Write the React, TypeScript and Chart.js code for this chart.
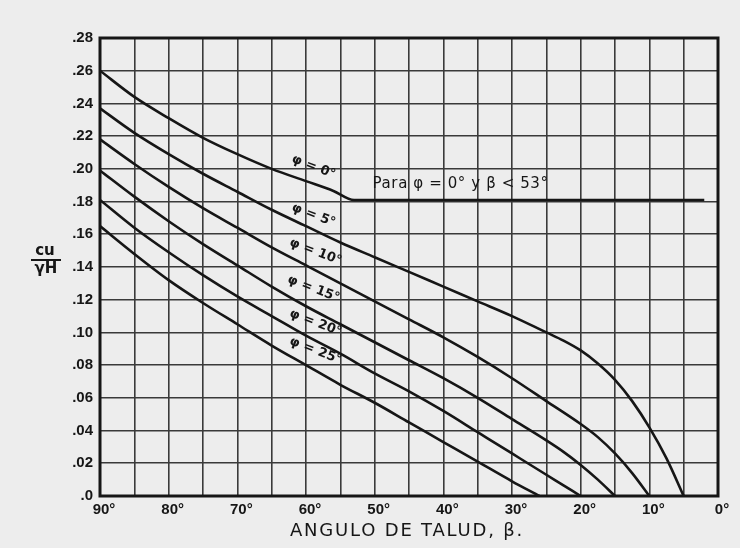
import React, { useEffect, useRef } from "react";
import { Chart, registerables } from "chart.js";

Chart.register(...registerables);

// Slope angle β (degrees) and stability number cu/γH
const beta0 = [90, 85, 80, 75, 70, 65, 60, 56, 53, 2];
const phi0 = [0.26, 0.244, 0.231, 0.219, 0.209, 0.2, 0.1925, 0.1865, 0.181, 0.181];

const beta5 = [90, 85, 80, 75, 70, 65, 60, 55, 50, 45, 40, 35, 30, 25, 22.5, 20, 17.5, 15, 12.5, 10, 7.5, 5];
const phi5 = [0.237, 0.222, 0.209, 0.197, 0.186, 0.175, 0.165, 0.155, 0.146, 0.137, 0.128, 0.119, 0.11, 0.1, 0.095, 0.089, 0.081, 0.071, 0.058, 0.042, 0.023, 0];

const beta10 = [90, 85, 80, 75, 70, 65, 60, 55, 50, 45, 40, 35, 30, 25, 20, 17.5, 15, 12.5, 10];
const phi10 = [0.218, 0.203, 0.189, 0.176, 0.164, 0.152, 0.141, 0.13, 0.119, 0.108, 0.097, 0.085, 0.072, 0.058, 0.044, 0.036, 0.026, 0.014, 0];

const beta15 = [90, 85, 80, 75, 70, 65, 60, 55, 50, 45, 40, 35, 30, 25, 22.5, 20, 17.5, 15];
const phi15 = [0.199, 0.183, 0.168, 0.154, 0.141, 0.128, 0.116, 0.105, 0.094, 0.083, 0.072, 0.06, 0.047, 0.034, 0.027, 0.019, 0.01, 0];

const beta20 = [90, 85, 80, 75, 70, 65, 60, 55, 50, 45, 40, 35, 30, 25, 22.5, 20];
const phi20 = [0.181, 0.164, 0.149, 0.135, 0.122, 0.11, 0.098, 0.087, 0.075, 0.064, 0.052, 0.039, 0.026, 0.013, 0.0065, 0];

const beta25 = [90, 85, 80, 75, 70, 65, 60, 55, 50, 45, 40, 35, 30, 26];
const phi25 = [0.165, 0.148, 0.132, 0.118, 0.105, 0.092, 0.08, 0.068, 0.057, 0.045, 0.033, 0.021, 0.009, 0];

const seriesBeta = [beta0, beta5, beta10, beta15, beta20, beta25];
const seriesValues = [phi0, phi5, phi10, phi15, phi20, phi25];
const seriesNames = ["φ = 0°", "φ = 5°", "φ = 10°", "φ = 15°", "φ = 20°", "φ = 25°"];

// Label anchors in data units (β, cu/γH)
const labelBeta = [58.9, 58.9, 58.6, 58.9, 58.6, 58.6];
const labelValue = [0.2012, 0.1716, 0.1492, 0.1266, 0.1059, 0.0888];
const noteText = "Para φ = 0° y β < 53°";

const xTitle = "ANGULO DE TALUD, β.";

const INK = "#161616";
const BG = "#ededed";

export default function App() {
  const ref = useRef<HTMLCanvasElement>(null);

  useEffect(() => {
    const canvas = ref.current;
    if (!canvas) return;

    const decor = {
      id: "decor",
      beforeDraw(chart: any) {
        const ctx = chart.ctx;
        ctx.save();
        ctx.fillStyle = BG;
        ctx.fillRect(0, 0, chart.width, chart.height);
        ctx.restore();
      },
      afterDatasetsDraw(chart: any) {
        const ctx = chart.ctx;
        const { left, right, top, bottom } = chart.chartArea;
        const xs = chart.scales.x;
        const ys = chart.scales.y;
        ctx.save();
        // frame
        ctx.strokeStyle = INK;
        ctx.lineWidth = 3;
        ctx.strokeRect(left, top, right - left, bottom - top);

        // curve labels
        ctx.fillStyle = INK;
        ctx.font = 'bold 13px "DejaVu Sans"';
        ctx.textAlign = "center";
        ctx.textBaseline = "middle";
        for (let i = 0; i < seriesNames.length; i++) {
          const px = xs.getPixelForValue(labelBeta[i]);
          const py = ys.getPixelForValue(labelValue[i]);
          ctx.save();
          ctx.translate(px, py);
          ctx.rotate((21 * Math.PI) / 180);
          ctx.fillText(seriesNames[i], 0, 0);
          ctx.restore();
        }

        // note
        ctx.font = '15px "DejaVu Sans"';
        (ctx as any).letterSpacing = "0.6px";
        ctx.textAlign = "left";
        ctx.fillText(noteText, xs.getPixelForValue(50.3), ys.getPixelForValue(0.1905));

        // x title
        ctx.font = '18px "DejaVu Sans"';
        (ctx as any).letterSpacing = "1.8px";
        ctx.textAlign = "center";
        ctx.fillText(xTitle, 407, 531);
        (ctx as any).letterSpacing = "0px";

        // y title as a fraction
        ctx.font = 'bold 15px "DejaVu Sans"';
        ctx.fillText("cu", 45, 251);
        ctx.fillText("γH", 46, 269);
        ctx.lineWidth = 2;
        ctx.beginPath();
        ctx.moveTo(31, 260);
        ctx.lineTo(61, 260);
        ctx.stroke();
        ctx.restore();
      },
    };

    const chart = new Chart(canvas, {
      type: "line",
      data: {
        datasets: seriesValues.map((vals, i) => ({
          label: seriesNames[i],
          data: vals.map((v, j) => ({ x: seriesBeta[i][j], y: v })),
          borderColor: INK,
          borderWidth: 2.6,
          pointRadius: 0,
          fill: false,
          tension: 0.4,
          cubicInterpolationMode: "monotone" as const,
        })),
      },
      options: {
        responsive: false,
        animation: false,
        parsing: false as any,
        layout: { padding: { left: 0, top: 38, right: 22, bottom: 0 } },
        plugins: {
          legend: { display: false },
          tooltip: { enabled: false },
          title: { display: false },
        },
        scales: {
          x: {
            type: "linear",
            min: 0,
            max: 90,
            reverse: true,
            border: { display: false },
            grid: { color: "#3a3a3a", lineWidth: 1.6, drawTicks: false },
            ticks: {
              stepSize: 5,
              autoSkip: false,
              maxRotation: 0,
              padding: 5,
              labelOffset: 4,
              color: INK,
              font: { family: '"Liberation Sans", Arial, sans-serif', size: 15, weight: "bold" },
              callback: (v: any) => (Number(v) % 10 === 0 ? `${v}°` : ""),
            },
            afterFit: (s: any) => {
              s.height = 52;
            },
          },
          y: {
            type: "linear",
            min: 0,
            max: 0.28,
            border: { display: false },
            grid: { color: "#3a3a3a", lineWidth: 1.6, drawTicks: false },
            ticks: {
              stepSize: 0.02,
              autoSkip: false,
              padding: 7,
              color: INK,
              font: { family: '"Liberation Sans", Arial, sans-serif', size: 15, weight: "bold" },
              callback: (v: any) => {
                const n = Math.round(Number(v) * 100);
                return n === 0 ? ".0" : "." + String(n).padStart(2, "0");
              },
            },
            afterFit: (s: any) => {
              s.width = 100;
            },
          },
        },
      },
      plugins: [decor],
    });

    return () => chart.destroy();
  }, []);

  return (
    <div style={{ position: "fixed", left: 0, top: 0, width: 740, height: 548, background: BG }}>
      <canvas ref={ref} width={740} height={548} style={{ display: "block", width: 740, height: 548 }} />
    </div>
  );
}
